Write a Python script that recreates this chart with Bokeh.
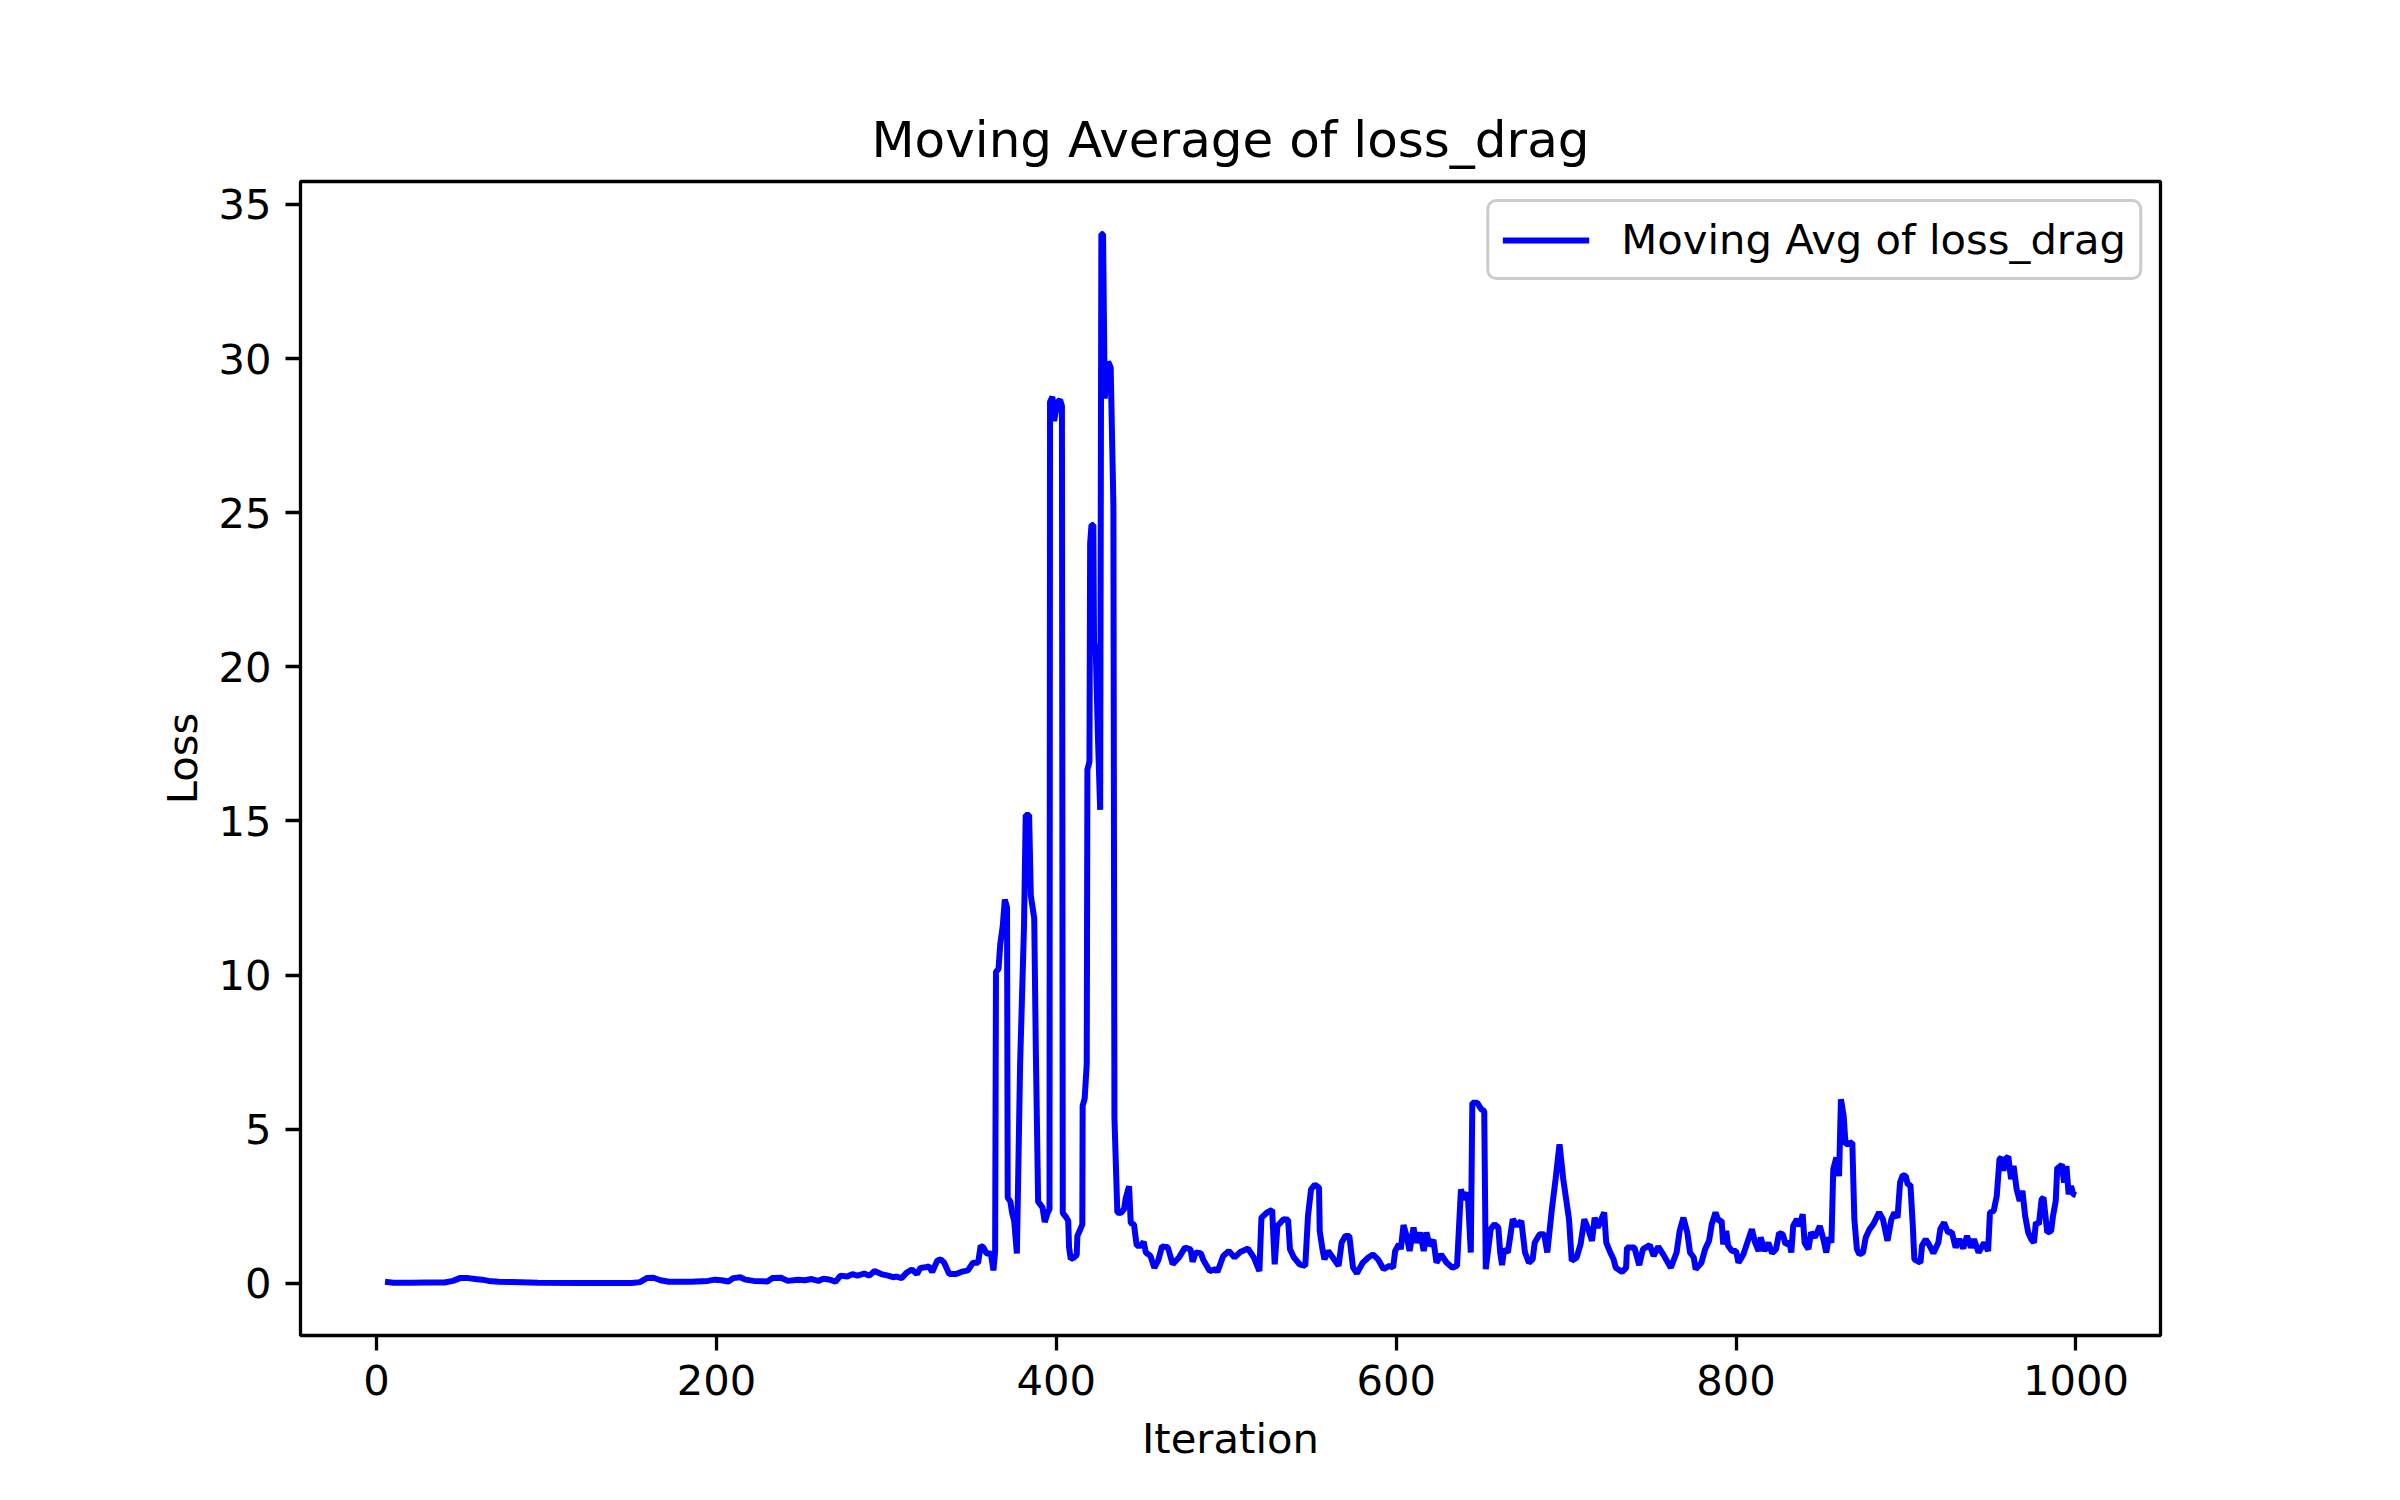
from bokeh.plotting import figure
from bokeh.models import Range1d, FixedTicker, ColumnDataSource
from bokeh.embed import file_html
from bokeh.resources import INLINE

title_text = "Moving Average of loss_drag"
x_label = "Iteration"
y_label = "Loss"
series_label = "Moving Avg of loss_drag"
x_ticks = [0, 200, 400, 600, 800, 1000]
y_ticks = [0, 5, 10, 15, 20, 25, 30, 35]

iteration = [
    5, 10, 20, 30, 40, 45, 49, 54, 58, 62, 66, 72, 80, 95, 120, 150, 155, 159, 163, 167,
    172, 185, 195, 199, 203, 207, 210, 214, 217, 222, 230, 233, 238, 242, 248, 252, 256, 260, 263, 267,
    270, 273, 277, 280, 283, 287, 290, 293, 297, 301, 304, 306, 309, 312, 315, 318, 320, 323, 325, 327,
    330, 332, 334, 337, 341, 344, 348, 351, 354, 355.5, 357, 359, 361.5, 363, 364, 364.5, 366, 367, 368.5, 369.7,
    371, 371.4, 373, 374, 375.2, 376.8, 378.7, 381, 382, 384, 385, 387, 388, 389.3, 391.9, 393.2, 394.8, 396, 396.3, 397.7,
    398.7, 400.7, 402.2, 403.3, 403.8, 405.6, 407, 407.5, 408.5, 410.5, 412, 412.4, 414.4, 415.3, 415.5, 416.7, 417.9, 418.3, 419.5, 419.9,
    420.7, 421.8, 422.2, 423.2, 424.6, 425.8, 426.5, 427.5, 428.5, 429.7, 430.5, 432, 433.6, 434.2, 435.9, 437.9, 439.9, 440.8, 442.8, 443.8,
    445.7, 447.3, 449.6, 451.4, 452.7, 455.4, 457.7, 460, 462.2, 465.6, 468.5, 472.3, 475.7, 479, 480.2, 482, 485, 486.5, 490.3, 493.7,
    494.8, 498.2, 501.5, 504.9, 508.3, 512.8, 516.2, 519.5, 520.7, 524, 527, 528.5, 530.1, 533.7, 536.4, 537.5, 539.8, 543.1, 546.5, 548.1,
    549.9, 552.1, 554.6, 555, 556.6, 557.8, 560, 563.4, 566.1, 567.9, 570.1, 572.4, 574.6, 576.9, 580.3, 583.6, 586.3, 589.3, 592.6, 596,
    598.2, 599.4, 601.6, 602.7, 604.3, 606.1, 607.9, 610.2, 611.7, 614, 616.2, 617.8, 619.6, 621.9, 623.7, 626.4, 629.7, 633.1, 635.8, 638.1,
    639.9, 642.1, 643.9, 644.8, 647.7, 650, 651.8, 652.7, 655.6, 657.9, 660.1, 661.2, 662.3, 663.5, 665.7, 668.6, 671.4, 673.6, 675.8, 678.1,
    680.3, 681.5, 684.4, 687.1, 688.9, 691.6, 693.8, 696.1, 698.3, 701.7, 703.3, 706.2, 708.5, 710.7, 713, 715.2, 716.8, 718.6, 722.4, 723.6,
    725.6, 727.9, 729.2, 733, 735.3, 735.8, 740.2, 743, 745.2, 749.2, 751.5, 754.2, 757.1, 761.6, 765, 766.8, 769, 771.3, 772.9, 775.1,
    776.2, 779.6, 781.8, 784.1, 785.7, 787.9, 789.7, 791.5, 792.4, 794.2, 795.3, 797.6, 800, 801.4, 804.3, 806.6, 809.3, 811.1, 813.3, 814.5,
    816.7, 819, 821.2, 823.5, 825.3, 827.5, 829.1, 831.5, 832.5, 833.6, 835.8, 837.4, 839.2, 840.3, 842.6, 844.1, 846.4, 849.3, 851.6, 853.1,
    854.5, 856.1, 857.2, 859, 860.6, 861.7, 863.3, 864.4, 868.4, 869.6, 871.1, 872.5, 874.7, 876.3, 878.6, 880.8, 884.2, 886.4, 889.1, 891.4,
    893.2, 895, 896.5, 898.1, 899.9, 901, 902.6, 904, 904.9, 908.5, 909.4, 911.6, 913.4, 916.1, 919, 920.2, 922.4, 924.7, 926.9, 929.2,
    931.4, 933.7, 935.9, 938.2, 940, 942.7, 946, 948.3, 949.4, 951.6, 953.4, 955, 956.1, 957.3, 958.4, 960.2, 961.8, 963.3, 965.1, 966.9,
    968.5, 970.1, 971.9, 973.7, 975.3, 976.4, 978.2, 979.8, 980.9, 983.1, 985.4, 986.5, 988.1, 989, 990.3, 991.7, 993, 994.4, 995.7, 997.1,
    998.4, 1000,
]

loss_avg = [
    0.05, 0.02, 0.02, 0.03, 0.03, 0.08, 0.17, 0.17, 0.14, 0.12, 0.08, 0.05, 0.04, 0.02, 0.01, 0.01, 0.04, 0.17, 0.18, 0.10,
    0.05, 0.05, 0.08, 0.12, 0.10, 0.06, 0.17, 0.20, 0.12, 0.08, 0.06, 0.17, 0.18, 0.08, 0.12, 0.10, 0.14, 0.08, 0.15, 0.12,
    0.05, 0.25, 0.22, 0.30, 0.25, 0.32, 0.25, 0.40, 0.30, 0.25, 0.20, 0.22, 0.17, 0.35, 0.45, 0.30, 0.50, 0.52, 0.55, 0.37,
    0.74, 0.78, 0.67, 0.30, 0.30, 0.37, 0.42, 0.67, 0.67, 1.22, 1.17, 0.97, 0.97, 0.42, 1.04, 10.1, 10.2, 11.0, 11.6, 12.45,
    12.2, 2.78, 2.65, 2.28, 2.03, 0.97, 7.12, 11.6, 15.19, 15.19, 12.58, 11.84, 7.37, 2.65, 2.46, 1.99, 2.28, 2.41, 28.59, 28.76,
    27.97, 28.59, 28.66, 28.46, 2.28, 2.16, 2.03, 1.17, 0.79, 0.84, 0.92, 1.54, 1.79, 1.91, 5.76, 6.0, 7.12, 16.67, 16.92, 24.0,
    24.6, 24.6, 20.77, 20.52, 17.54, 15.36, 34.04, 34.04, 28.7, 29.45, 29.9, 29.7, 25.2, 5.38, 2.3, 2.28, 2.41, 2.75, 3.15, 1.96,
    1.91, 1.22, 1.22, 1.35, 1.0, 0.89, 0.5, 0.75, 1.2, 1.17, 0.62, 0.85, 1.16, 1.1, 0.7, 1.0, 0.98, 0.76, 0.4, 0.46,
    0.37, 0.89, 1.05, 0.84, 1.02, 1.13, 0.84, 0.4, 2.13, 2.3, 2.38, 0.62, 1.86, 2.08, 2.06, 1.11, 0.84, 0.62, 0.57, 2.19,
    3.05, 3.2, 3.1, 1.7, 1.11, 0.78, 1.05, 0.78, 0.57, 1.32, 1.54, 1.54, 0.51, 0.33, 0.67, 0.84, 0.94, 0.78, 0.46, 0.57,
    0.51, 1.05, 1.27, 1.11, 1.89, 1.54, 1.05, 1.81, 1.32, 1.65, 1.05, 1.65, 1.22, 1.41, 0.67, 0.94, 0.67, 0.51, 0.57, 3.05,
    2.73, 2.94, 1.0, 5.86, 5.86, 5.65, 5.59, 0.46, 1.76, 1.92, 1.81, 1.0, 0.59, 1.11, 1.0, 2.08, 1.86, 2.03, 1.0, 0.67,
    0.78, 1.32, 1.59, 1.59, 1.0, 2.4, 3.38, 4.51, 3.38, 2.08, 0.73, 0.84, 1.27, 2.08, 1.76, 1.38, 2.13, 1.81, 2.3, 1.32,
    1.05, 0.78, 0.51, 0.37, 0.51, 1.16, 1.16, 0.59, 1.11, 1.24, 0.89, 1.19, 0.94, 0.51, 1.0, 1.7, 2.13, 1.65, 1.0, 0.84,
    0.46, 0.67, 1.11, 1.38, 1.92, 2.3, 2.03, 2.03, 1.27, 1.7, 1.22, 1.05, 1.05, 0.67, 0.94, 1.32, 1.76, 1.34, 1.05, 1.49,
    1.05, 1.32, 0.98, 1.11, 1.63, 1.59, 1.27, 1.32, 1.0, 1.86, 2.08, 1.86, 2.24, 1.32, 1.11, 1.65, 1.49, 1.86, 1.38, 1.0,
    1.49, 1.32, 3.7, 4.08, 3.48, 5.97, 5.43, 4.51, 4.57, 2.08, 1.11, 0.94, 1.0, 1.49, 1.76, 1.92, 2.3, 2.08, 1.38, 2.08,
    2.3, 2.13, 3.27, 3.51, 3.48, 3.2, 3.2, 1.86, 0.78, 0.67, 1.22, 1.43, 1.27, 0.98, 1.32, 1.76, 1.97, 1.65, 1.67, 1.16,
    1.43, 1.13, 1.54, 1.16, 1.43, 1.0, 1.32, 1.05, 2.3, 2.35, 2.84, 4.03, 4.08, 3.65, 4.03, 4.11, 3.38, 3.81, 3.05, 2.67,
    3.0, 2.19, 1.65, 1.43, 1.32, 1.97, 1.92, 2.73, 2.78, 1.65, 1.7, 2.19, 2.67, 3.76, 3.76, 3.86, 3.27, 3.81, 2.89, 3.16,
    2.89, 2.86,
]

FONT = "DejaVu Sans"
W, H = 2384, 1484

xmin, xmax = min(iteration), max(iteration)
ymin, ymax = min(loss_avg), max(loss_avg)
dx, dy = (xmax - xmin) * 0.05, (ymax - ymin) * 0.05

p = figure(width=W, height=H, output_backend="svg", toolbar_location=None,
           x_range=Range1d(xmin - dx, xmax + dx), y_range=Range1d(ymin - dy, ymax + dy),
           min_border_left=300, min_border_right=224, min_border_top=181, min_border_bottom=149)

src = ColumnDataSource(dict(x=iteration, y=loss_avg))
p.line("x", "y", source=src, line_color="#0000ff", line_width=6, legend_label=series_label)

p.title.text = title_text
p.title.align = "center"
p.title.text_font = FONT
p.title.text_font_size = "50px"
p.title.text_font_style = "normal"
p.title.text_color = "black"
p.title.standoff = 25

p.outline_line_color = "black"
p.outline_line_width = 3.3
p.background_fill_color = "white"
p.border_fill_color = "white"
p.xgrid.visible = False
p.ygrid.visible = False

p.xaxis.ticker = FixedTicker(ticks=x_ticks)
p.yaxis.ticker = FixedTicker(ticks=y_ticks)
for ax in (p.xaxis, p.yaxis):
    ax.axis_line_color = None
    ax.major_tick_line_color = "black"
    ax.major_tick_line_width = 3.3
    ax.major_tick_out = 15
    ax.major_tick_in = 0
    ax.minor_tick_out = 0
    ax.minor_tick_in = 0
    ax.major_label_text_font = FONT
    ax.major_label_text_font_size = "41.7px"
    ax.major_label_text_color = "black"
    ax.major_label_standoff = 14
    ax.axis_label_text_font = FONT
    ax.axis_label_text_font_size = "41.7px"
    ax.axis_label_text_font_style = "normal"
    ax.axis_label_text_color = "black"
    ax.axis_label_standoff = 16
p.yaxis.axis_label_standoff = 8
p.xaxis.axis_label = x_label
p.yaxis.axis_label = y_label

lg = p.legend[0]
lg.location = "top_right"
lg.margin = 18
lg.padding = 13
lg.spacing = 0
lg.border_line_color = "#cccccc"
lg.border_line_width = 3
lg.border_line_alpha = 1.0
lg.background_fill_color = "white"
lg.background_fill_alpha = 0.8
lg.label_text_font = FONT
lg.label_text_font_size = "41.7px"
lg.label_text_color = "black"
lg.glyph_width = 87
lg.glyph_height = 40
lg.label_standoff = 32
lg.label_height = 42
if "border_radius" in lg.properties():
    lg.border_radius = 10

open("out.html", "w").write(file_html(p, INLINE))
